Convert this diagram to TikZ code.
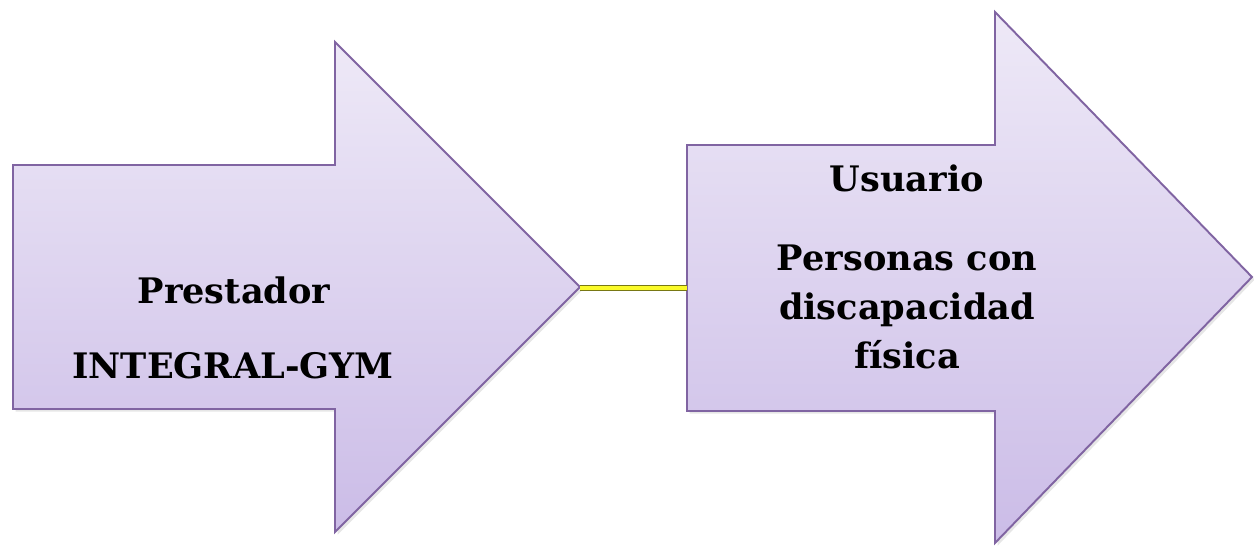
\documentclass[tikz,border=0pt]{standalone}
\usepackage{fontspec}
\setmainfont{DejaVu Serif}
\usepackage{xcolor}
\usepackage{tikz}
\usetikzlibrary{positioning,shadows}
\definecolor{arrowline}{RGB}{128,100,162}
\definecolor{arrowtop}{RGB}{238,233,247}
\definecolor{arrowbot}{RGB}{203,188,231}
\definecolor{linkyellow}{RGB}{250,250,40}
\definecolor{linkedge}{RGB}{120,120,20}
\tikzset{
  % flecha grande
  bigarrow/.style={
    draw=arrowline,
    line width=1.1pt,
    top color=arrowtop,
    bottom color=arrowbot,
    drop shadow={shadow xshift=1.5pt, shadow yshift=-1.5pt, opacity=0.2}
  },
  % texto
  lbl/.style={font=\fontsize{20}{28}\selectfont\bfseries, align=center, text=black},
  % conector amarillo
  link/.style={draw=linkedge, line width=0.6pt, double=linkyellow, double distance=2.4pt},
}
\begin{document}
\begin{tikzpicture}[x=0.02cm, y=-0.02cm]
        \useasboundingbox (0,0) rectangle (1254,548);

        % Flechas
        \draw[bigarrow] (13,165) -- (335,165) -- (335,42) -- (580,287) -- (335,532)
            -- (335,409) -- (13,409) -- cycle;
        \draw[bigarrow] (687,145) -- (995,145) -- (995,12) -- (1252,277) -- (995,543)
            -- (995,411) -- (687,411) -- cycle;
        \coordinate (prestip) at (580,288);
        \coordinate (usutail) at (687,288);

        % Textos
        \node[lbl] (prestador) at (234,290) {Prestador};
        \node[lbl] (integral) at (233,366) {INTEGRAL-GYM};
        \node[lbl] (usuario) at (907,178) {Usuario};
        \node[lbl] (personas) at (907,307) {Personas con\\discapacidad\\física};

        \draw[link] (prestip) -- (usutail);
    \end{tikzpicture}
\end{document}
